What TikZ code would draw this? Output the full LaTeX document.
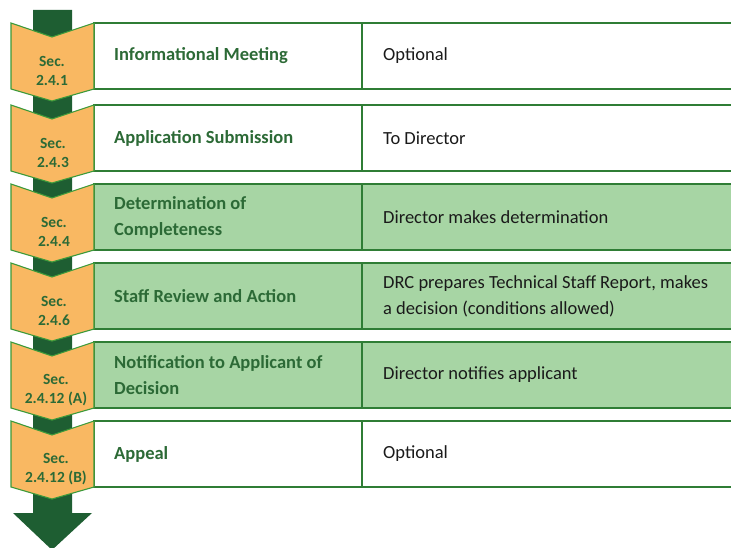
\documentclass[tikz,border=0pt]{standalone}
\usepackage{fontspec}
\setmainfont{Carlito}
\definecolor{darkarrow}{HTML}{1E5E32}
\definecolor{chev}{HTML}{F9B862}
\definecolor{rowline}{HTML}{2F7D35}
\definecolor{chevline}{HTML}{3C9A3A}
\definecolor{lightg}{HTML}{A7D5A4}
\definecolor{txtg}{HTML}{2C6A36}
\definecolor{txtk}{HTML}{1A1A1A}
\tikzset{
  rowbox/.style={draw=rowline, line width=1.6pt},
  chevbox/.style={draw=chevline, fill=chev, line width=1.1pt, line join=miter},
  chevtext/.style={font=\fontsize{15.5}{19}\selectfont\bfseries, text=txtg, align=center, inner sep=0pt},
  steptext/.style={font=\fontsize{18.5}{26}\selectfont\bfseries, text=txtg, align=left, anchor=west, inner sep=0pt},
  notetext/.style={font=\fontsize{18.5}{26}\selectfont, text=txtk, align=left, anchor=west, inner sep=0pt},
}
\newcommand{\flowrow}[7]{%
  % #1 top y, #2 fill, #3 sec text, #4 step text, #5 note text, #6 name, #7 sec text x
  \path[rowbox, fill=#2] (94,#1) rectangle (362,#1+66);
  \path[rowbox, fill=#2] (362,#1) rectangle (745,#1+66);
  \path[chevbox] (11,#1) -- (52,#1+14) -- (94,#1) -- (94,#1+66) -- (52,#1+78) -- (11,#1+66) -- cycle;
  \node[chevtext] (#6sec) at (#7,#1+48) {#3};
  \node[steptext] (#6step) at (114,#1+33) {#4};
  \node[notetext] (#6note) at (383,#1+33) {#5};
}
\begin{document}
\begin{tikzpicture}[x=1pt,y=-1pt]
\useasboundingbox (0,0) rectangle (731,548);
\clip (0,0) rectangle (731,548);
\fill[white] (0,0) rectangle (731,548);
\fill[darkarrow] (33,10) -- (72,10) -- (72,513) -- (92,513) -- (52,550) -- (13,513) -- (33,513) -- cycle;
\flowrow{23}{white}{Sec.\\2.4.1}{Informational Meeting}{Optional}{r1}{52}
\flowrow{105}{white}{Sec.\\2.4.3}{Application Submission}{To Director}{r2}{53}
\flowrow{184}{lightg}{Sec.\\2.4.4}{Determination of\\Completeness}{Director makes determination}{r3}{54}
\flowrow{263}{lightg}{Sec.\\2.4.6}{Staff Review and Action}{DRC prepares Technical Staff Report, makes\\a decision (conditions allowed)}{r4}{54}
\flowrow{342}{lightg}{Sec.\\2.4.12 (A)}{Notification to Applicant of\\Decision}{Director notifies applicant}{r5}{56}
\flowrow{421}{white}{Sec.\\2.4.12 (B)}{Appeal}{Optional}{r6}{56}
\end{tikzpicture}
\end{document}
